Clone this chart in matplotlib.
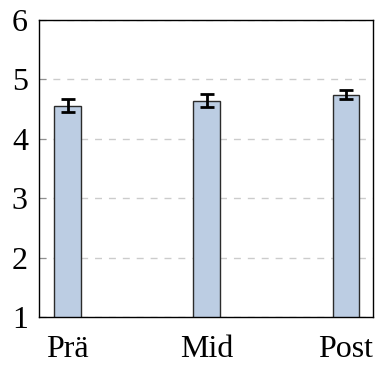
import numpy as np
import matplotlib.pyplot as plt

# Data
phases = ['Prä', 'Mid', 'Post']
means = [4.56, 4.64, 4.745]
errors = [0.115, 0.11, 0.08]

plt.rcParams['font.family'] = ['Liberation Serif', 'DejaVu Serif']

fig = plt.figure(figsize=(3.75, 3.65), dpi=100)
ax = fig.add_axes([39/375, 48/365, 334/375, 297/365])

x = np.arange(len(phases))
ax.bar(x, means, width=0.19, bottom=0, color='#bccde3', edgecolor='#2b2b2b',
       linewidth=1.0, zorder=3)
ax.errorbar(x, means, yerr=errors, fmt='none', ecolor='black', elinewidth=2,
            capsize=5, capthick=2, zorder=4)

ax.set_ylim(1, 6)
ax.set_xlim(-0.205, 2.195)
ax.set_yticks([1, 2, 3, 4, 5, 6])
ax.set_xticks(x)
ax.set_xticklabels(phases)
ax.yaxis.grid(True, linestyle=(0, (5, 5)), color='#cccccc', linewidth=1, zorder=0)
ax.tick_params(axis='y', direction='in', length=5, color='#909090', labelsize=23, pad=8)
ax.tick_params(axis='x', length=0, labelsize=23, pad=13)
for s in ax.spines.values():
    s.set_linewidth(1.0)
    s.set_zorder(5)

fig.savefig('out.png', dpi=100)
